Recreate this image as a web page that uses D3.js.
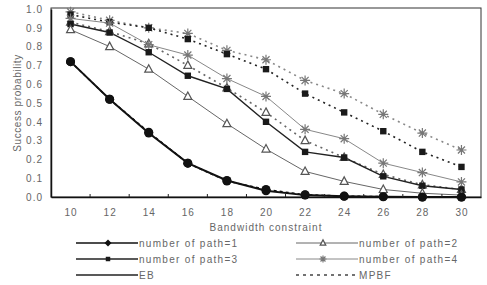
<!DOCTYPE html>
<html>
<head>
<meta charset="utf-8"/>
<script src="https://d3js.org/d3.v7.min.js"></script>
<style>
	body{margin:0;background:#fff;}
	text{font-family:Arial,"Liberation Sans",sans-serif;fill:#666;}
</style>
</head>
<body>
<script>
// bandwidth constraint values
var bandwidth = [10,12,14,16,18,20,22,24,26,28,30];
var yTicks = [0,0.1,0.2,0.3,0.4,0.5,0.6,0.7,0.8,0.9,1.0];

// EB (solid) curves
var eb1 = [0.72,0.52,0.34,0.18,0.088,0.033,0.01,0.004,0.001,0,0];
var eb2 = [0.89,0.80,0.68,0.535,0.39,0.255,0.136,0.083,0.04,0.02,0.01];
var eb3 = [0.92,0.875,0.77,0.645,0.575,0.40,0.24,0.21,0.11,0.06,0.04];
var eb4 = [0.95,0.925,0.81,0.755,0.63,0.535,0.36,0.31,0.18,0.13,0.08];
// MPBF (dotted) curves
var mp1 = [0.72,0.52,0.345,0.18,0.085,0.04,0.012,0.005,0.002,0,0];
var mp2 = [0.93,0.88,0.815,0.70,0.58,0.45,0.30,0.21,0.12,0.065,0.04];
var mp3 = [0.97,0.93,0.90,0.84,0.76,0.68,0.55,0.45,0.35,0.24,0.16];
var mp4 = [0.985,0.94,0.90,0.87,0.78,0.73,0.62,0.55,0.44,0.34,0.25];

var legendLabels = ["number of path=1","number of path=2","number of path=3","number of path=4","EB","MPBF"];

var styles = {
	1:{color:"#111",width:2,marker:"circle"},
	2:{color:"#666",width:1,marker:"triangle"},
	3:{color:"#222",width:1.4,marker:"square"},
	4:{color:"#888",width:1,marker:"star"}
};

var series = [
	{p:1,vals:eb1,dash:null},{p:2,vals:eb2,dash:null},{p:3,vals:eb3,dash:null},{p:4,vals:eb4,dash:null},
	{p:1,vals:mp1,dash:"3,3"},{p:2,vals:mp2,dash:"2,4"},{p:3,vals:mp3,dash:"2,4"},{p:4,vals:mp4,dash:"2,4"}
];

var svg = d3.select("body").append("svg").attr("width",487).attr("height",285);

var x = d3.scaleLinear().domain([9,31]).range([51,481]);
var y = d3.scaleLinear().domain([0,1]).range([197,9]);

// frame
svg.append("rect").attr("x",51).attr("y",8).attr("width",430).attr("height",189)
	.attr("fill","none").attr("stroke","#333").attr("stroke-width",1);

function drawMarker(g,type,cx,cy,k){
	k = k || 1;
	if(type=="circle"){
		g.append("circle").attr("cx",cx).attr("cy",cy).attr("r",4.5*k).attr("fill","#111");
	}else if(type=="diamond"){
		g.append("path").attr("d","M"+cx+","+(cy-3.5)+"L"+(cx+3.5)+","+cy+"L"+cx+","+(cy+3.5)+"L"+(cx-3.5)+","+cy+"Z")
			.attr("fill","#111");
	}else if(type=="square"){
		g.append("rect").attr("x",cx-3.2*k).attr("y",cy-3.2*k).attr("width",6.4*k).attr("height",6.4*k).attr("fill","#1a1a1a");
	}else if(type=="triangle"){
		g.append("path").attr("d","M"+cx+","+(cy-4.5*k)+"L"+(cx+4*k)+","+(cy+3*k)+"L"+(cx-4*k)+","+(cy+3*k)+"Z")
			.attr("fill","#fff").attr("stroke","#555").attr("stroke-width",1.2);
	}else if(type=="star"){
		var r=5*k, s="";
		[0,45,90,135].forEach(function(a){
			var rad=a*Math.PI/180;
			s+="M"+(cx-r*Math.cos(rad))+","+(cy-r*Math.sin(rad))+"L"+(cx+r*Math.cos(rad))+","+(cy+r*Math.sin(rad));
		});
		g.append("path").attr("d",s).attr("stroke","#777").attr("stroke-width",1.2).attr("fill","none");
	}
}

var line = d3.line().x(function(d,i){return x(bandwidth[i]);}).y(function(d){return y(d);});

var plot = svg.append("g");
series.slice().reverse().forEach(function(s){
	var st = styles[s.p];
	plot.append("path").datum(s.vals).attr("d",line)
		.attr("fill","none").attr("stroke",st.color)
		.attr("stroke-width",s.dash? (s.p==1?1.5:1.6) : st.width)
		.attr("stroke-dasharray",s.dash);
});
series.slice().reverse().forEach(function(s){
	var st = styles[s.p];
	s.vals.forEach(function(v,i){
		drawMarker(plot,st.marker,x(bandwidth[i]),y(v));
	});
});

// axes
var xAxis = d3.axisBottom(x).tickValues(bandwidth).tickSize(0).tickPadding(12).tickFormat(d3.format("d"));
var gx = svg.append("g").attr("transform","translate(0,197)").call(xAxis);
gx.select(".domain").attr("stroke","#111").attr("stroke-width",1.5);
gx.selectAll("text").style("font-size","10px").style("letter-spacing","1px").attr("fill","#777");

// minor ticks at odd values, pointing inward
svg.append("g").selectAll("line").data(d3.range(11,31,2)).enter().append("line")
	.attr("x1",function(d){return x(d);}).attr("x2",function(d){return x(d);})
	.attr("y1",197).attr("y2",194).attr("stroke","#222");

var yAxis = d3.axisLeft(y).tickValues(yTicks).tickSize(0).tickPadding(8).tickFormat(d3.format(".1f"));
var gy = svg.append("g").attr("transform","translate(51,0)").call(yAxis);
gy.select(".domain").attr("stroke","#111").attr("stroke-width",1.5);
gy.selectAll("text").style("font-size","10px").style("letter-spacing","1px").attr("fill","#888");

svg.append("text").attr("x",266).attr("y",231).attr("text-anchor","middle")
	.style("font-size","10px").style("letter-spacing","1px").text("Bandwidth constraint");
svg.append("text").attr("transform","translate(21,103) rotate(-90)").attr("text-anchor","middle")
	.style("font-size","10px").style("letter-spacing","0.6px").text("Success probability");

// legend
var legendMarkers = ["diamond","triangle","square","star",null,null];
var legendColors = ["#111","#666","#222","#888","#222","#444"];
var legendWidths = [1.5,1,1.4,1,1.3,1.3];
var lg = svg.append("g");
legendLabels.forEach(function(lbl,i){
	var col = i%2, row = Math.floor(i/2);
	var x0 = col==0 ? 76 : 296, yy = 243 + row*16;
	lg.append("line").attr("x1",x0).attr("x2",x0+62).attr("y1",yy).attr("y2",yy)
		.attr("stroke",legendColors[i]).attr("stroke-width",legendWidths[i])
		.attr("stroke-dasharray",i==5?"3,4":null);
	if(legendMarkers[i]) drawMarker(lg,legendMarkers[i],x0+(col==0?32:27),yy,0.7);
	lg.append("text").attr("x",x0+63).attr("y",yy+3.5)
		.style("font-size","10px").style("letter-spacing","1.3px").text(lbl);
});
</script>
</body>
</html>
